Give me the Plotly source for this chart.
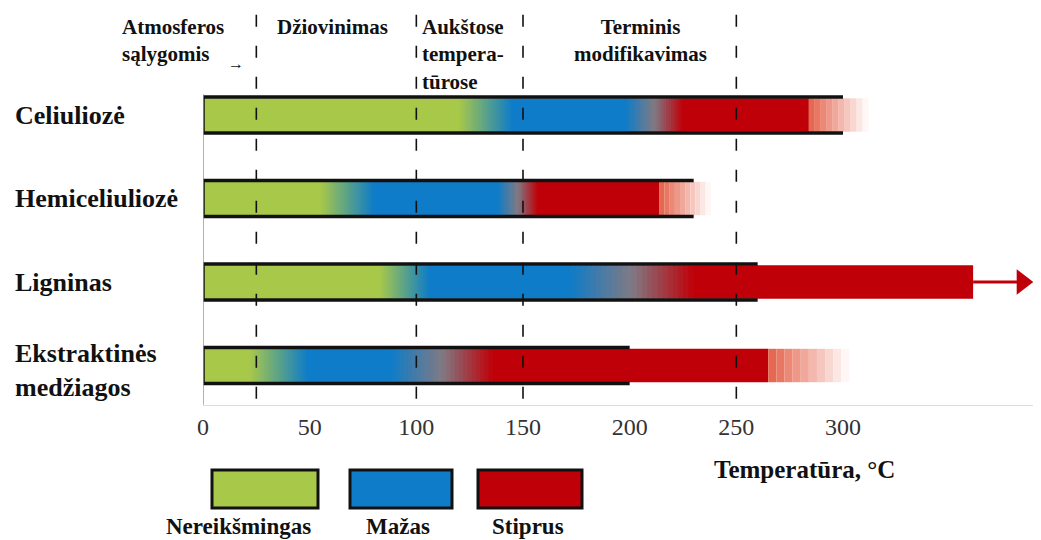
import plotly.graph_objects as go

# ---------------- data ----------------
materials = ["Celiuliozė", "Hemiceliuliozė", "Ligninas", "Ekstraktinės<br>medžiagos"]
green_end = [120, 55, 83, 22]
blue_start = [145, 80, 106, 49]
blue_end = [198, 138, 172, 88]
red_start = [225, 157, 230, 136]
red_end = [284, 214, 361, 265]
fade_end = [312, 238, 361, 303]
outline_end = [300, 230, 260, 200]
arrow_end = [None, None, 384, None]
phase_bounds = [25, 100, 150, 250]
x_ticks = [0, 50, 100, 150, 200, 250, 300]
phase_labels = ["Atmosferos<br>sąlygomis", "Džiovinimas", "Aukštose<br>tempera-<br>tūrose",
                "Terminis<br>modifikavimas"]
legend_labels = ["Nereikšmingas", "Mažas", "Stiprus"]

# ---------------- styles ----------------
GREEN = (168, 200, 74)
BLUE = (14, 124, 200)
RED = (192, 0, 8)
GRAY = (128, 122, 132)
FADE0 = (228, 96, 72)
WHITE = (255, 255, 255)
SERIF = "Liberation Serif"

# page has an 8px body margin: figure is placed at (8, 8)
OFF = 8
W, H = 1041 - OFF, 540 - OFF
L, R, T, B = 203 - OFF, 1, 10 - OFF, 135
PW, PH = W - L - R, H - T - B


def px(xp):
    return (xp - OFF - L) / PW


def py(yp):
    return (H - B - (yp - OFF)) / PH


def lerp(c1, c2, t):
    return tuple(round(a + (b - a) * t) for a, b in zip(c1, c2))


def rgb(c):
    return "rgb(%d,%d,%d)" % c


bases, widths, ys, cols = [], [], [], []


def add(y, x0, x1, c, ov=0.5):
    bases.append(x0)
    widths.append(x1 - x0 + ov)
    ys.append(y)
    cols.append(rgb(c))


N = 24
for i in range(len(materials)):
    ge, bs, be, rs, re_, fe = green_end[i], blue_start[i], blue_end[i], red_start[i], red_end[i], fade_end[i]
    add(i, 0, ge, GREEN)
    for k in range(N):
        x0 = ge + (bs - ge) * k / N
        x1 = ge + (bs - ge) * (k + 1) / N
        add(i, x0, x1, lerp(GREEN, BLUE, (k + 0.5) / N))
    add(i, bs, be, BLUE)
    for k in range(N):
        x0 = be + (rs - be) * k / N
        x1 = be + (rs - be) * (k + 1) / N
        t = (k + 0.5) / N
        c = lerp(BLUE, GRAY, 2 * t) if t < 0.5 else lerp(GRAY, RED, 2 * t - 1)
        add(i, x0, x1, c)
    add(i, rs, re_, RED, ov=0)
    if fe > re_:
        M = 10
        for k in range(M):
            x0 = re_ + (fe - re_) * k / M
            x1 = re_ + (fe - re_) * (k + 1) / M
            add(i, x0, x1, lerp(FADE0, WHITE, (k + 0.5) / M), ov=0)

fig = go.Figure()
fig.add_trace(go.Bar(orientation="h", y=ys, x=widths, base=bases, width=0.40,
                     marker=dict(color=cols, line=dict(width=0)), hoverinfo="skip",
                     showlegend=False))

# outline boxes (top, left, bottom)
HALF = 0.215
for i in range(len(materials)):
    fig.add_trace(go.Scatter(x=[outline_end[i], 0, 0, outline_end[i]],
                             y=[i - HALF, i - HALF, i + HALF, i + HALF],
                             mode="lines", line=dict(color="#111", width=3.5),
                             hoverinfo="skip", showlegend=False))
    if arrow_end[i] is not None:
        fig.add_trace(go.Scatter(x=[red_end[i], arrow_end[i]], y=[i, i], mode="lines",
                                 line=dict(color=rgb(RED), width=3), hoverinfo="skip",
                                 showlegend=False, cliponaxis=False))
        fig.add_trace(go.Scatter(x=[arrow_end[i]], y=[i], mode="markers",
                                 marker=dict(symbol="triangle-right", size=22, color=rgb(RED)),
                                 hoverinfo="skip", showlegend=False, cliponaxis=False))

# y axis line at 0
fig.add_trace(go.Scatter(x=[0, 0], y=[-0.25, 3.47], mode="lines",
                         line=dict(color="#999", width=1.5), hoverinfo="skip", showlegend=False))

# dashed phase boundaries
for xb in phase_bounds:
    fig.add_trace(go.Scatter(x=[xb, xb], y=[-1.2, 3.47], mode="lines",
                             line=dict(color="#111", width=1.6, dash="12px,19px"),
                             hoverinfo="skip", showlegend=False))

ann = []
# category labels
for i, m in enumerate(materials):
    ann.append(dict(text=m, xref="paper", x=px(13), xanchor="left", yref="y",
                    y=i + (0.06 if "<br>" in m else 0), yanchor="middle", showarrow=False,
                    align="left", font=dict(family=SERIF, size=26, color="#111", weight="bold")))

# phase labels
phase_pos = [(120, "left"), (275, "left"), (420, "left"), (640, "center")]
for (xp, anc), lab in zip(phase_pos, phase_labels):
    ann.append(dict(text=lab, xref="paper", x=px(xp), xanchor=anc, yref="paper", y=py(13),
                    yanchor="top", showarrow=False, align=anc,
                    font=dict(family=SERIF, size=21, color="#111", weight="bold")))
ann.append(dict(text="→", xref="paper", x=px(236), xanchor="center", yref="paper", y=py(63),
                yanchor="middle", showarrow=False, font=dict(family=SERIF, size=16, color="#111")))

# axis title
ann.append(dict(text="Temperatūra, °C", xref="paper", x=px(712), xanchor="left", yref="paper",
                y=py(469), yanchor="middle", showarrow=False,
                font=dict(family=SERIF, size=25, color="#111", weight="bold")))

# legend
shapes = []
legend_cols = [GREEN, BLUE, RED]
legend_boxes = [(212, 318), (350, 452), (478, 582)]
legend_text_x = [238, 398, 528]
for (x0, x1), c, lab, tx in zip(legend_boxes, legend_cols, legend_labels, legend_text_x):
    shapes.append(dict(type="rect", xref="paper", yref="paper", x0=px(x0), x1=px(x1),
                       y0=py(508), y1=py(470), fillcolor=rgb(c),
                       line=dict(color="#111", width=3)))
    ann.append(dict(text=lab, xref="paper", x=px(tx), xanchor="center", yref="paper", y=py(526),
                    yanchor="middle", showarrow=False,
                    font=dict(family=SERIF, size=23, color="#111", weight="bold")))

fig.update_layout(
    width=W, height=H, margin=dict(l=L, r=R, t=T, b=B),
    plot_bgcolor="white", paper_bgcolor="white", barmode="overlay",
    xaxis=dict(range=[0, PW / 2.1333], tickvals=x_ticks, ticktext=[str(v) for v in x_ticks],
               showgrid=False, zeroline=False, showline=True, linecolor="#ddd", linewidth=1,
               ticks="", tickfont=dict(family=SERIF, size=24, color="#333")),
    yaxis=dict(range=[3.473, -1.258], visible=False),
    annotations=ann, shapes=shapes, showlegend=False,
)

fig.write_html("out.html")
